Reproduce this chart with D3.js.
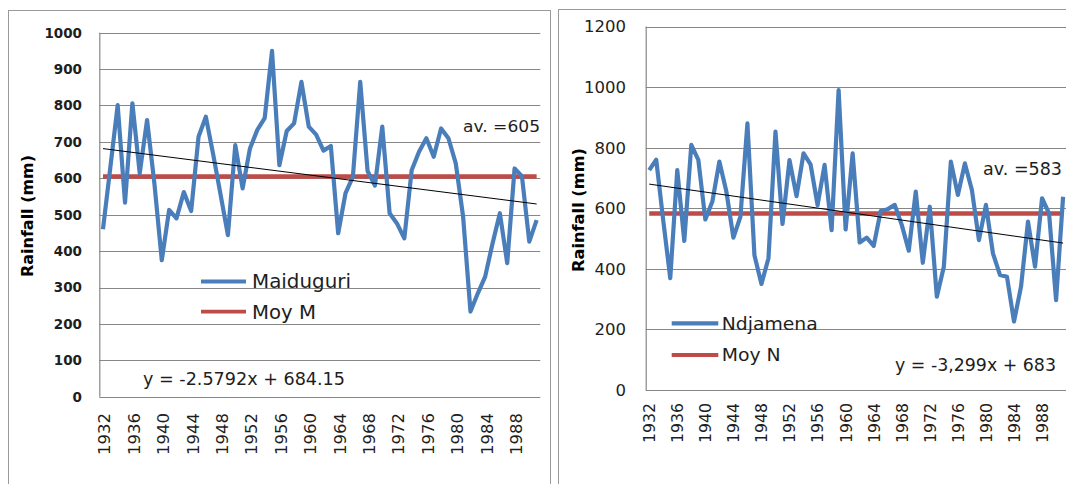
<!DOCTYPE html>
<html><head><meta charset="utf-8">
<script src="https://cdn.jsdelivr.net/npm/d3@7/dist/d3.min.js"></script>
<style>body{margin:0;background:#fff;overflow:hidden}text{font-family:"DejaVu Sans",Verdana,sans-serif}</style>
</head><body><svg id="c" width="1066" height="484"></svg>
<script>
// ---------------- data ----------------
const years = [1932,1933,1934,1935,1936,1937,1938,1939,1940,1941,1942,1943,1944,1945,1946,1947,1948,1949,1950,1951,
  1952,1953,1954,1955,1956,1957,1958,1959,1960,1961,1962,1963,1964,1965,1966,1967,1968,1969,1970,1971,
  1972,1973,1974,1975,1976,1977,1978,1979,1980,1981,1982,1983,1984,1985,1986,1987,1988,1989,1990,1991];
const tickYears = [1932,1936,1940,1944,1948,1952,1956,1960,1964,1968,1972,1976,1980,1984,1988];

const maiduguri = [460,630,801,533,806,614,760,585,375,513,490,562,510,714,769,665,555,444,691,572,
  682,733,765,950,636,730,751,865,742,720,676,689,449,559,604,865,620,580,742,504,
  476,435,622,673,710,659,737,710,641,494,234,284,330,421,504,367,627,606,426,485];
const ndjamena = [726,760,560,369,726,492,809,760,563,622,754,655,503,572,880,445,350,435,853,548,
  759,640,781,745,610,743,528,990,530,781,487,503,476,591,597,611,545,460,655,420,
  605,308,407,754,644,748,660,495,611,451,380,374,226,341,556,407,633,583,297,638];

const yTicksM = [0,100,200,300,400,500,600,700,800,900,1000];
const yTicksN = [0,200,400,600,800,1000,1200];
const meanM = 605, meanN = 583;
const trendM = {a:-2.5792, b:684.15};
const trendN = {a:-3.299, b:683};

// ---------------- drawing ----------------
const svg = d3.select("#c");
svg.append("rect").attr("width",1066).attr("height",484).attr("fill","#fff");

const BLUE = "#4A7EBB", RED = "#BE4B48", GRID = "#878787", TXT = "#1e1e1e";

function panel(cfg){
  const g = svg.append("g");
  g.append("rect").attr("x",cfg.frame[0]).attr("y",cfg.frame[1])
    .attr("width",cfg.frame[2]).attr("height",cfg.frame[3])
    .attr("fill","none").attr("stroke","#9a9a9a").attr("stroke-width",1);

  const x = d3.scaleBand().domain(years).range([cfg.x0, cfg.x1]);
  const cx = d => x(d) + x.bandwidth()/2;
  const y = d3.scaleLinear().domain([0, cfg.yMax]).range([cfg.yb, cfg.yt]);

  g.selectAll(".grid").data(cfg.yTicks).join("line")
    .attr("x1",cfg.x0).attr("x2",cfg.x1)
    .attr("y1",d=>Math.round(y(d))+0.5).attr("y2",d=>Math.round(y(d))+0.5)
    .attr("stroke",GRID).attr("stroke-width",1.2);
  g.append("line").attr("x1",cfg.x0+0.5).attr("x2",cfg.x0+0.5)
    .attr("y1",y(cfg.yMax)).attr("y2",y(0)).attr("stroke",GRID).attr("stroke-width",1.2);

  g.selectAll(".yl").data(cfg.yTicks).join("text")
    .attr("x",cfg.ylx).attr("y",d=>y(d)).attr("dy","0.36em")
    .attr("text-anchor","end").attr("font-size",cfg.ylSize)
    .attr("font-weight",cfg.ylBold?"bold":"normal").attr("fill",TXT)
    .text(d=>d);

  g.selectAll(".xl").data(tickYears).join("text")
    .attr("transform",d=>`translate(${cx(d)+cfg.xlOff},${cfg.xlTop}) rotate(-90)`)
    .attr("text-anchor","end").attr("dy","0.36em")
    .attr("font-size",cfg.xlSize).attr("fill",TXT)
    .attr("textLength",cfg.xlLen).attr("lengthAdjust","spacingAndGlyphs")
    .text(d=>d);

  g.append("text")
    .attr("transform",`translate(${cfg.titleX},${cfg.titleY}) rotate(-90)`)
    .attr("text-anchor","middle").attr("dy","0.36em")
    .attr("font-size",15.5).attr("font-weight","bold").attr("fill","#000")
    .attr("textLength",cfg.titleLen).attr("lengthAdjust","spacingAndGlyphs")
    .text("Rainfall  (mm)");

  g.append("line").attr("x1",cx(years[0])).attr("x2",cx(years[years.length-1]))
    .attr("y1",y(cfg.mean)).attr("y2",y(cfg.mean))
    .attr("stroke",RED).attr("stroke-width",4.5);

  const line = d3.line().x((d,i)=>cx(years[i])).y(d=>y(d));
  g.append("path").datum(cfg.values).attr("d",line)
    .attr("fill","none").attr("stroke",BLUE).attr("stroke-width",4.2)
    .attr("stroke-linejoin","round");

  const n = years.length;
  g.append("line")
    .attr("x1",cx(years[0])).attr("y1",y(cfg.trend.a*1+cfg.trend.b))
    .attr("x2",cx(years[n-1])).attr("y2",y(cfg.trend.a*n+cfg.trend.b))
    .attr("stroke","#000").attr("stroke-width",1);

  const lg = cfg.legend;
  g.append("line").attr("x1",lg.x).attr("x2",lg.x+lg.w).attr("y1",lg.y1).attr("y2",lg.y1)
    .attr("stroke",BLUE).attr("stroke-width",4.2);
  g.append("line").attr("x1",lg.x).attr("x2",lg.x+lg.w).attr("y1",lg.y2).attr("y2",lg.y2)
    .attr("stroke",RED).attr("stroke-width",3.8);
  g.append("text").attr("x",lg.tx).attr("y",lg.y1).attr("dy","0.36em")
    .attr("font-size",lg.size).attr("fill",TXT)
    .attr("textLength",lg.len1).attr("lengthAdjust","spacingAndGlyphs").text(cfg.name);
  g.append("text").attr("x",lg.tx).attr("y",lg.y2).attr("dy","0.36em")
    .attr("font-size",lg.size).attr("fill",TXT)
    .attr("textLength",lg.len2).attr("lengthAdjust","spacingAndGlyphs").text(cfg.meanName);

  g.append("text").attr("x",cfg.av.x).attr("y",cfg.av.y).attr("text-anchor","end")
    .attr("font-size",cfg.av.size).attr("fill",TXT)
    .attr("textLength",cfg.av.len).attr("lengthAdjust","spacingAndGlyphs")
    .text("av. =" + cfg.mean);
  g.append("text").attr("x",cfg.eq.x).attr("y",cfg.eq.y)
    .attr("font-size",cfg.eq.size).attr("fill",TXT)
    .attr("textLength",cfg.eq.len).attr("lengthAdjust","spacingAndGlyphs")
    .text(cfg.eq.text);
}

panel({
  frame:[8.5,10.5,542,490],
  x0:99.3, x1:540.3, yb:396.7, yt:32.7, yMax:1000, yTicks:yTicksM,
  ylx:82, ylSize:13.5, ylBold:true,
  xlTop:413, xlOff:2, xlSize:15, xlLen:42,
  titleX:27, titleY:216, titleLen:122,
  values:maiduguri, mean:meanM, trend:trendM,
  name:"Maiduguri", meanName:"Moy M",
  legend:{x:201, w:45, y1:281.5, y2:311.7, tx:252, size:19, len1:99, len2:64},
  av:{x:540, y:132, size:16.5, len:77},
  eq:{x:143, y:385, size:17.5, len:202, text:"y = -2.5792x + 684.15"}
});

panel({
  frame:[558.5,9.5,540,490],
  x0:645.7, x1:1066.6, yb:390, yt:26.5, yMax:1200, yTicks:yTicksN,
  ylx:626, ylSize:16.5, ylBold:false,
  xlTop:403, xlOff:0.5, xlSize:15, xlLen:40,
  titleX:578, titleY:210, titleLen:124,
  values:ndjamena, mean:meanN, trend:trendN,
  name:"Ndjamena", meanName:"Moy N",
  legend:{x:671.7, w:46.6, y1:323.3, y2:355, tx:721.7, size:18, len1:96, len2:59},
  av:{x:1062, y:175, size:17, len:79},
  eq:{x:895, y:370.5, size:17, len:161, text:"y = -3,299x + 683"}
});
</script></body></html>
